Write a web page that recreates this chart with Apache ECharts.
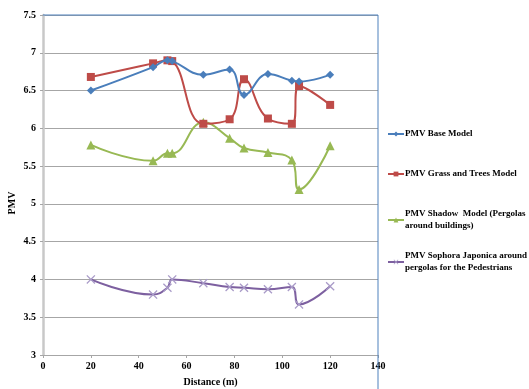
<!DOCTYPE html>
<html>
<head>
<meta charset="utf-8">
<script src="https://cdn.jsdelivr.net/npm/echarts@6/dist/echarts.min.js"></script>
<style>
  html, body { margin: 0; padding: 0; background: #ffffff; }
  #chart { width: 529px; height: 389px; }
</style>
</head>
<body>
<div id="chart"></div>
<script>
// Distance along the route (m)
const distance = [20, 46, 52, 54, 67, 78, 84, 94, 104, 107, 120];

// PMV values for each model
const pmvBase     = [6.50, 6.81, 6.90, 6.89, 6.71, 6.78, 6.44, 6.72, 6.63, 6.62, 6.71];
const pmvGrass    = [6.68, 6.86, 6.90, 6.89, 6.06, 6.12, 6.65, 6.13, 6.06, 6.56, 6.31];
const pmvShadow   = [5.78, 5.57, 5.67, 5.67, 6.08, 5.87, 5.74, 5.68, 5.58, 5.19, 5.77];
const pmvSophora  = [4.00, 3.80, 3.89, 4.00, 3.95, 3.90, 3.89, 3.87, 3.90, 3.67, 3.91];

const seriesNames = [
  'PMV Base Model',
  'PMV Grass and Trees Model',
  'PMV Shadow  Model (Pergolas\naround buildings)',
  'PMV Sophora Japonica around\npergolas for the Pedestrians'
];

const xTicks = { min: 0, max: 140, interval: 20 };
const yTicks = { min: 3, max: 7.5, interval: 0.5 };

const font = '"Liberation Serif", "Times New Roman", serif';
const pairs = (ys) => distance.map((x, i) => [x, ys[i]]);

const crossPath = 'path://M0,1 L1,0 L5,4 L9,0 L10,1 L6,5 L10,9 L9,10 L5,6 L1,10 L0,9 L4,5 Z';

const styles = [
  { color: '#4a7ebb', symbol: 'diamond', size: 8, data: pmvBase },
  { color: '#be4b48', symbol: 'rect', size: 8, data: pmvGrass },
  { color: '#98b954', symbol: 'triangle', size: 9, data: pmvShadow },
  { color: '#7d60a0', symbol: crossPath, size: 9, data: pmvSophora, markColor: '#a99bc8' }
];

const legendTops = [123, 163, 203, 245];

const chart = echarts.init(document.getElementById('chart'), null, { renderer: 'canvas' });

const option = {
  backgroundColor: '#ffffff',
  animation: false,
  textStyle: { fontFamily: font },
  grid: { left: 43, right: 151, top: 15, bottom: 34, outerBoundsMode: 'none', containLabel: false },
  xAxis: {
    type: 'value',
    min: xTicks.min, max: xTicks.max, interval: xTicks.interval,
    name: 'Distance (m)',
    nameLocation: 'middle',
    nameGap: 22,
    nameMoveOverlap: false,
    nameTextStyle: { fontFamily: font, fontWeight: 'bold', fontSize: 10, color: '#000' },
    axisLine: { show: true, lineStyle: { color: '#a6a6a6', width: 1 } },
    axisTick: { show: true, length: 3, lineStyle: { color: '#a6a6a6' } },
    axisLabel: { fontFamily: font, fontWeight: 'bold', fontSize: 10, color: '#000', margin: 6 },
    splitLine: { show: false }
  },
  yAxis: {
    type: 'value',
    min: yTicks.min, max: yTicks.max, interval: yTicks.interval,
    name: 'PMV',
    nameLocation: 'middle',
    nameGap: 31,
    nameMoveOverlap: false,
    nameRotate: 90,
    nameTextStyle: { fontFamily: font, fontWeight: 'bold', fontSize: 10, color: '#000', verticalAlign: 'middle', padding: [0, 0, 0, -36] },
    axisLine: { show: true, onZero: false, lineStyle: { color: '#c8c8c8', width: 2.5 } },
    axisTick: { show: true, length: 3, lineStyle: { color: '#a6a6a6' } },
    axisLabel: {
      fontFamily: font, fontWeight: 'bold', fontSize: 10, color: '#000', margin: 7,
      formatter: (v) => String(Math.round(v * 10) / 10)
    },
    splitLine: { show: true, lineStyle: { color: '#a6a6a6', width: 1.2 } }
  },
  legend: styles.map((s, i) => ({
    orient: 'vertical',
    left: 382,
    top: legendTops[i],
    data: [seriesNames[i]],
    itemWidth: 16,
    itemHeight: 6,
    itemGap: 0,
    textStyle: { fontFamily: font, fontWeight: 'bold', fontSize: 9, color: '#000', lineHeight: 12, padding: [0, 0, 0, -4] }
  })),
  graphic: [
    { type: 'line', shape: { x1: 43, y1: 15, x2: 378, y2: 15 }, style: { stroke: '#4f81bd', lineWidth: 1 }, z: 10 },
    { type: 'line', shape: { x1: 378, y1: 15, x2: 378, y2: 389 }, style: { stroke: '#4f81bd', lineWidth: 1 }, z: 10 }
  ],
  series: styles.map((s, i) => ({
    name: seriesNames[i],
    type: 'line',
    data: pairs(s.data),
    smooth: 0.45,
    symbol: s.symbol,
    symbolSize: s.size,
    showSymbol: true,
    lineStyle: { color: s.color, width: 2 },
    itemStyle: { color: s.markColor || s.color },
    z: 5 - i
  }))
};

chart.setOption(option);
</script>
</body>
</html>
